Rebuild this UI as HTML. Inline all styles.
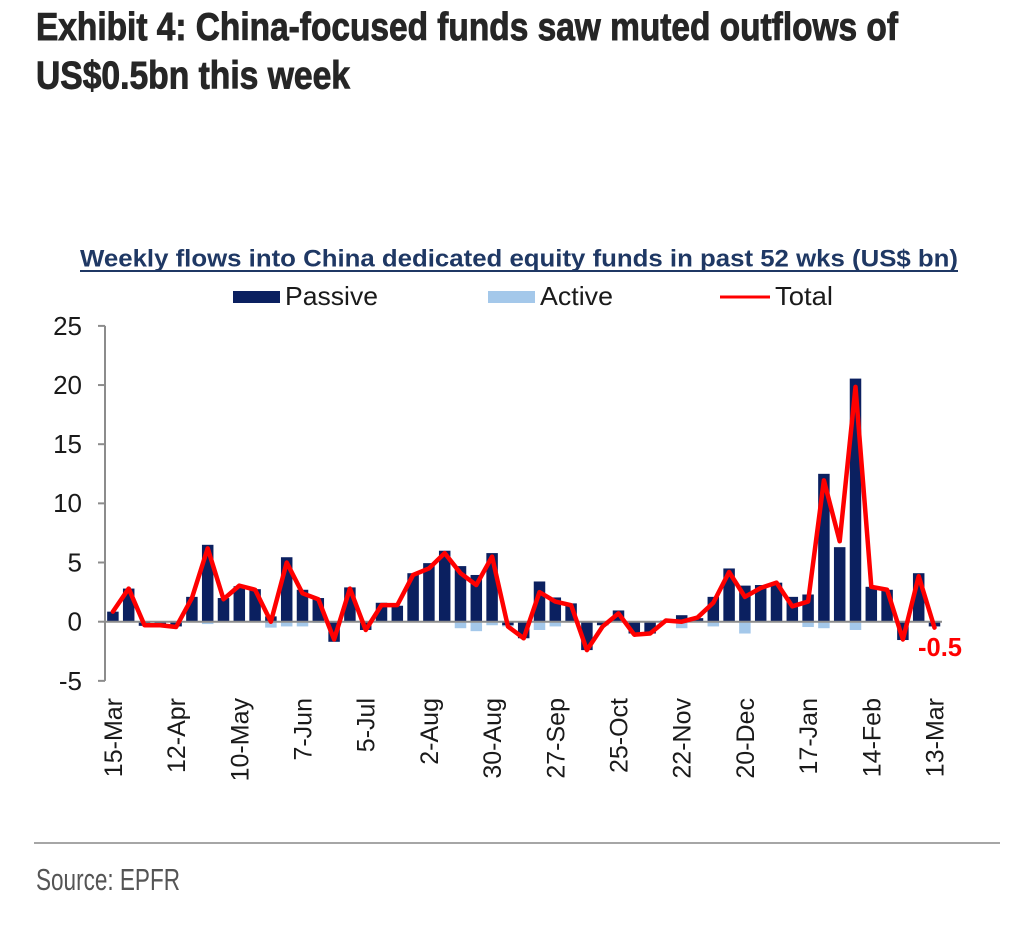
<!DOCTYPE html>
<html>
<head>
<meta charset="utf-8">
<style>
html,body{margin:0;padding:0;background:#fff;}
svg{display:block;}
</style>
</head>
<body>
<svg width="1024" height="931" viewBox="0 0 1024 931" xmlns="http://www.w3.org/2000/svg">
<rect x="0" y="0" width="1024" height="931" fill="#fff"/>

<!-- Title -->
<g font-family="'Liberation Sans Narrow','Liberation Sans',sans-serif" font-weight="bold" fill="#262626" stroke="#262626" stroke-width="0.9" font-size="39">
  <text x="36" y="40" textLength="862" lengthAdjust="spacingAndGlyphs">Exhibit 4: China-focused funds saw muted outflows of</text>
  <text x="36" y="88.5" textLength="314" lengthAdjust="spacingAndGlyphs">US$0.5bn this week</text>
</g>

<!-- Subtitle -->
<text x="80" y="266.5" font-family="'Liberation Sans',sans-serif" font-weight="bold" font-size="24" fill="#1f3864" textLength="878" lengthAdjust="spacingAndGlyphs">Weekly flows into China dedicated equity funds in past 52 wks (US$ bn)</text>
<rect x="80" y="270" width="878" height="2" fill="#1f3864"/>

<!-- Legend -->
<g font-family="'Liberation Sans',sans-serif" font-size="26" fill="#1a1a1a">
  <rect x="233" y="291" width="47" height="12" fill="#0b2060"/>
  <text x="285" y="305" textLength="93" lengthAdjust="spacingAndGlyphs">Passive</text>
  <rect x="488" y="291" width="47" height="12" fill="#a4c8ea"/>
  <text x="540" y="305" textLength="73" lengthAdjust="spacingAndGlyphs">Active</text>
  <line x1="720" y1="297" x2="770" y2="297" stroke="#ff0000" stroke-width="3"/>
  <text x="775" y="305" textLength="58" lengthAdjust="spacingAndGlyphs">Total</text>
</g>

<!-- Y axis -->
<g stroke="#8c8c8c" stroke-width="2">
  <line x1="105" y1="325.9" x2="105" y2="680.85"/>
  <line x1="98" y1="325.9" x2="105" y2="325.9"/>
  <line x1="98" y1="385.05" x2="105" y2="385.05"/>
  <line x1="98" y1="444.2" x2="105" y2="444.2"/>
  <line x1="98" y1="503.35" x2="105" y2="503.35"/>
  <line x1="98" y1="562.5" x2="105" y2="562.5"/>
  <line x1="98" y1="621.7" x2="105" y2="621.7"/>
  <line x1="98" y1="680.85" x2="105" y2="680.85"/>
</g>
<g font-family="'Liberation Sans',sans-serif" font-size="26" fill="#1a1a1a" text-anchor="end">
  <text x="82" y="335">25</text>
  <text x="82" y="394">20</text>
  <text x="82" y="453">15</text>
  <text x="82" y="512">10</text>
  <text x="82" y="571.5">5</text>
  <text x="82" y="630.7">0</text>
  <text x="82" y="690">-5</text>
</g>

<!-- Bars and line in value space -->
<g transform="translate(0,621.7) scale(1,-11.83)">
  <g fill="#a4c8ea">
    <rect x="201.95" y="-0.2" width="11.5" height="0.2"/>
    <rect x="265.15" y="-0.5" width="11.5" height="0.5"/>
    <rect x="280.95" y="-0.4" width="11.5" height="0.4"/>
    <rect x="296.75" y="-0.4" width="11.5" height="0.4"/>
    <rect x="312.55" y="-0.1" width="11.5" height="0.1"/>
    <rect x="454.75" y="-0.55" width="11.5" height="0.55"/>
    <rect x="470.55" y="-0.8" width="11.5" height="0.8"/>
    <rect x="486.35" y="-0.3" width="11.5" height="0.3"/>
    <rect x="502.15" y="-0.4" width="11.5" height="0.1"/>
    <rect x="533.75" y="-0.7" width="11.5" height="0.7"/>
    <rect x="549.55" y="-0.4" width="11.5" height="0.4"/>
    <rect x="675.95" y="-0.55" width="11.5" height="0.55"/>
    <rect x="707.55" y="-0.4" width="11.5" height="0.4"/>
    <rect x="739.15" y="-1.0" width="11.5" height="1.0"/>
    <rect x="802.35" y="-0.45" width="11.5" height="0.45"/>
    <rect x="818.15" y="-0.55" width="11.5" height="0.55"/>
    <rect x="849.75" y="-0.7" width="11.5" height="0.7"/>
  </g>
  <g fill="#0b2060">
    <rect x="107.15" y="0" width="11.5" height="0.85"/>
    <rect x="122.95" y="0" width="11.5" height="2.8"/>
    <rect x="138.75" y="-0.35" width="11.5" height="0.35"/>
    <rect x="154.55" y="-0.3" width="11.5" height="0.3"/>
    <rect x="170.35" y="-0.4" width="11.5" height="0.4"/>
    <rect x="186.15" y="0" width="11.5" height="2.1"/>
    <rect x="201.95" y="0" width="11.5" height="6.5"/>
    <rect x="217.75" y="0" width="11.5" height="2.0"/>
    <rect x="233.55" y="0" width="11.5" height="3.0"/>
    <rect x="249.35" y="0" width="11.5" height="2.75"/>
    <rect x="265.15" y="0" width="11.5" height="0.45"/>
    <rect x="280.95" y="0" width="11.5" height="5.45"/>
    <rect x="296.75" y="0" width="11.5" height="2.7"/>
    <rect x="312.55" y="0" width="11.5" height="2.0"/>
    <rect x="328.35" y="-1.7" width="11.5" height="1.7"/>
    <rect x="344.15" y="0" width="11.5" height="2.9"/>
    <rect x="359.95" y="-0.7" width="11.5" height="0.7"/>
    <rect x="375.75" y="0" width="11.5" height="1.6"/>
    <rect x="391.55" y="0" width="11.5" height="1.35"/>
    <rect x="407.35" y="0" width="11.5" height="4.1"/>
    <rect x="423.15" y="0" width="11.5" height="4.95"/>
    <rect x="438.95" y="0" width="11.5" height="6.0"/>
    <rect x="454.75" y="0" width="11.5" height="4.7"/>
    <rect x="470.55" y="0" width="11.5" height="3.95"/>
    <rect x="486.35" y="0" width="11.5" height="5.8"/>
    <rect x="502.15" y="-0.3" width="11.5" height="0.3"/>
    <rect x="517.95" y="-1.4" width="11.5" height="1.4"/>
    <rect x="533.75" y="0" width="11.5" height="3.4"/>
    <rect x="549.55" y="0" width="11.5" height="2.05"/>
    <rect x="565.35" y="0" width="11.5" height="1.55"/>
    <rect x="581.15" y="-2.4" width="11.5" height="2.4"/>
    <rect x="596.95" y="-0.3" width="11.5" height="0.3"/>
    <rect x="612.75" y="0" width="11.5" height="0.95"/>
    <rect x="628.55" y="-1.0" width="11.5" height="1.0"/>
    <rect x="644.35" y="-1.0" width="11.5" height="1.0"/>
    <rect x="660.15" y="0" width="11.5" height="0.1"/>
    <rect x="675.95" y="0" width="11.5" height="0.55"/>
    <rect x="691.75" y="0" width="11.5" height="0.3"/>
    <rect x="707.55" y="0" width="11.5" height="2.1"/>
    <rect x="723.35" y="0" width="11.5" height="4.5"/>
    <rect x="739.15" y="0" width="11.5" height="3.05"/>
    <rect x="754.95" y="0" width="11.5" height="3.1"/>
    <rect x="770.75" y="0" width="11.5" height="3.3"/>
    <rect x="786.55" y="0" width="11.5" height="2.1"/>
    <rect x="802.35" y="0" width="11.5" height="2.3"/>
    <rect x="818.15" y="0" width="11.5" height="12.5"/>
    <rect x="833.95" y="0" width="11.5" height="6.3"/>
    <rect x="849.75" y="0" width="11.5" height="20.55"/>
    <rect x="865.55" y="0" width="11.5" height="2.95"/>
    <rect x="881.35" y="0" width="11.5" height="2.7"/>
    <rect x="897.15" y="-1.55" width="11.5" height="1.55"/>
    <rect x="912.95" y="0" width="11.5" height="4.1"/>
    <rect x="928.75" y="-0.4" width="11.5" height="0.4"/>
  </g>
  <line x1="105" y1="0" x2="942" y2="0" stroke="#8c8c8c" stroke-width="2" vector-effect="non-scaling-stroke"/>
  <polyline fill="none" stroke="#ff0000" stroke-width="4.5" stroke-linejoin="round" stroke-linecap="round" vector-effect="non-scaling-stroke"
    points="112.9,0.85 128.7,2.8 144.5,-0.3 160.3,-0.3 176.1,-0.45 191.9,2.0 207.7,6.2 223.5,1.9 239.3,3.05 255.1,2.7 270.9,0 286.7,5.0 302.5,2.4 318.3,1.9 334.1,-1.5 349.9,2.8 365.7,-0.7 381.5,1.4 397.3,1.4 413.1,3.95 428.9,4.5 444.7,5.8 460.5,4.1 476.3,3.1 492.1,5.5 507.9,-0.4 523.7,-1.4 539.5,2.5 555.3,1.7 571.1,1.4 586.9,-2.4 602.7,-0.4 618.5,0.7 634.3,-1.1 650.1,-1.0 665.9,0.1 681.7,0 697.5,0.35 713.3,1.6 729.1,4.2 744.9,2.1 760.7,2.85 776.5,3.3 792.3,1.3 808.1,1.7 823.9,11.95 839.7,6.8 855.5,19.85 871.3,2.95 887.1,2.7 902.9,-1.5 918.7,3.85 934.5,-0.5"/>
</g>

<!-- Data label -->
<text x="918" y="656" font-family="'Liberation Sans',sans-serif" font-weight="bold" font-size="26" fill="#ff0000" textLength="44" lengthAdjust="spacingAndGlyphs">-0.5</text>

<!-- X labels -->
<g font-family="'Liberation Sans',sans-serif" font-size="25" fill="#1a1a1a" text-anchor="end">
  <text transform="translate(121.9,698) rotate(-90)">15-Mar</text>
  <text transform="translate(185.1,698) rotate(-90)">12-Apr</text>
  <text transform="translate(248.3,698) rotate(-90)">10-May</text>
  <text transform="translate(311.5,698) rotate(-90)">7-Jun</text>
  <text transform="translate(374.7,698) rotate(-90)">5-Jul</text>
  <text transform="translate(437.9,698) rotate(-90)">2-Aug</text>
  <text transform="translate(501.1,698) rotate(-90)">30-Aug</text>
  <text transform="translate(564.3,698) rotate(-90)">27-Sep</text>
  <text transform="translate(627.5,698) rotate(-90)">25-Oct</text>
  <text transform="translate(690.7,698) rotate(-90)">22-Nov</text>
  <text transform="translate(753.9,698) rotate(-90)">20-Dec</text>
  <text transform="translate(817.1,698) rotate(-90)">17-Jan</text>
  <text transform="translate(880.3,698) rotate(-90)">14-Feb</text>
  <text transform="translate(943.5,698) rotate(-90)">13-Mar</text>
</g>

<!-- Source -->
<line x1="34" y1="843" x2="1000" y2="843" stroke="#a6a6a6" stroke-width="2"/>
<text x="36" y="890" font-family="'Liberation Sans Narrow','Liberation Sans',sans-serif" font-size="31" fill="#555555" textLength="144" lengthAdjust="spacingAndGlyphs">Source: EPFR</text>
</svg>
</body>
</html>
